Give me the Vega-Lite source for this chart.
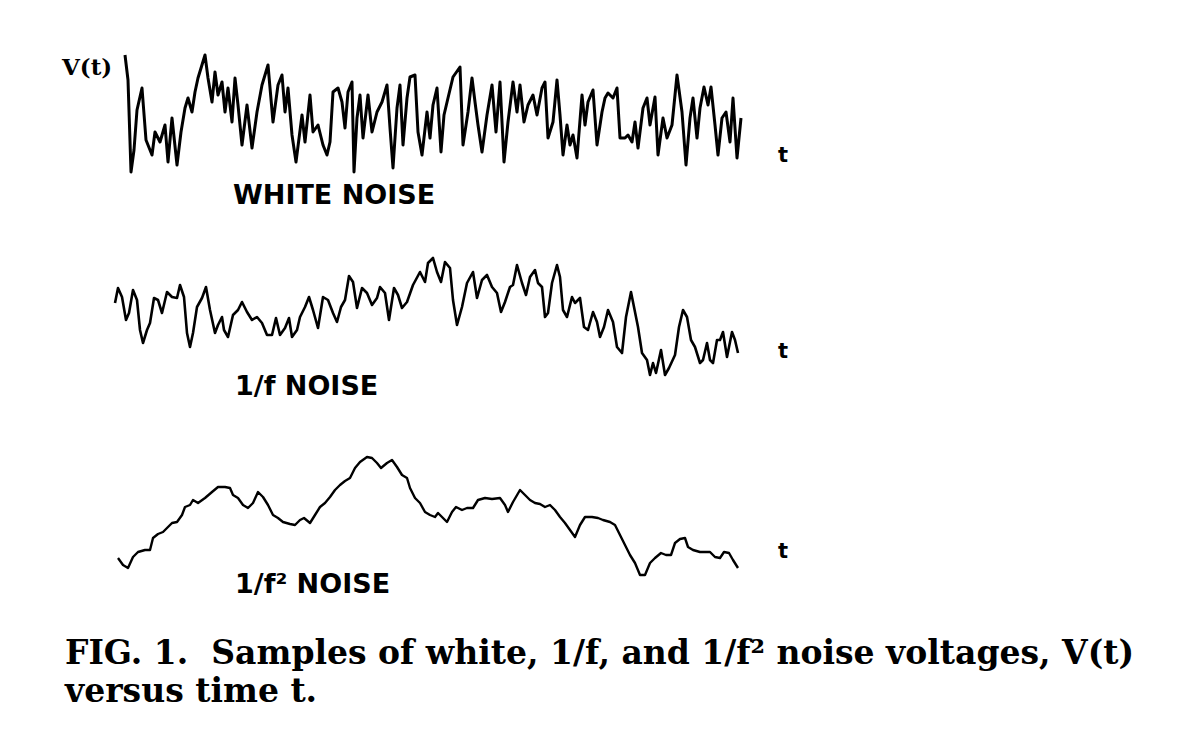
{
  "$schema": "https://vega.github.io/schema/vega-lite/v6.json",
  "background": "white",
  "padding": {"left": 50, "top": 50, "right": 0, "bottom": 12},
  "config": {"view": {"stroke": null}},
  "title": {
    "text": ["FIG. 1.\u00a0\u00a0Samples of white, 1/f, and 1/f\u00b2 noise voltages, V(t)", "versus time t."],
    "orient": "bottom", "anchor": "start", "offset": 38, "dx": 15,
    "font": "DejaVu Serif", "fontWeight": "bold", "fontSize": 33, "lineHeight": 38, "color": "black"
  },
  "spacing": 40,
  "resolve": {"scale": {"x": "independent", "y": "independent"}},
  "datasets": {
    "white": [
      {"t":10,"V":60},{"t":13,"V":35},{"t":16,"V":-57},{"t":19,"V":-35},{"t":22,"V":5},{"t":27,"V":27},{"t":31,"V":-25},{"t":37,"V":-40},{"t":40,"V":-17},{"t":45,"V":-27},{"t":50,"V":-10},{"t":53,"V":-47},{"t":57,"V":-3},{"t":62,"V":-50},{"t":66,"V":-17},{"t":70,"V":7},{"t":73,"V":17},{"t":77,"V":3},{"t":80,"V":23},{"t":83,"V":37},{"t":90,"V":60},{"t":93,"V":37},{"t":97,"V":13},{"t":100,"V":43},{"t":103,"V":20},{"t":107,"V":33},{"t":110,"V":3},{"t":113,"V":27},{"t":117,"V":-7},{"t":120,"V":37},{"t":123,"V":10},{"t":127,"V":-30},{"t":132,"V":10},{"t":137,"V":-33},{"t":142,"V":3},{"t":147,"V":30},{"t":153,"V":50},{"t":158,"V":-7},{"t":163,"V":30},{"t":167,"V":40},{"t":170,"V":3},{"t":173,"V":27},{"t":177,"V":-20},{"t":181,"V":-47},{"t":187,"V":0},{"t":190,"V":-27},{"t":195,"V":20},{"t":198,"V":-17},{"t":203,"V":-10},{"t":208,"V":-30},{"t":212,"V":-40},{"t":215,"V":-27},{"t":218,"V":23},{"t":223,"V":27},{"t":227,"V":13},{"t":230,"V":-13},{"t":233,"V":23},{"t":237,"V":33},{"t":239,"V":-57},{"t":242,"V":-3},{"t":245,"V":20},{"t":248,"V":-23},{"t":253,"V":20},{"t":257,"V":-17},{"t":262,"V":3},{"t":267,"V":13},{"t":272,"V":30},{"t":275,"V":-13},{"t":278,"V":-53},{"t":282,"V":7},{"t":285,"V":30},{"t":288,"V":-30},{"t":292,"V":17},{"t":295,"V":38},{"t":300,"V":40},{"t":303,"V":-17},{"t":307,"V":-40},{"t":312,"V":3},{"t":315,"V":-23},{"t":318,"V":10},{"t":322,"V":27},{"t":326,"V":-37},{"t":329,"V":0},{"t":333,"V":17},{"t":338,"V":38},{"t":345,"V":48},{"t":348,"V":-30},{"t":353,"V":3},{"t":357,"V":37},{"t":360,"V":13},{"t":363,"V":-10},{"t":367,"V":-37},{"t":372,"V":0},{"t":377,"V":30},{"t":381,"V":-17},{"t":385,"V":33},{"t":389,"V":-47},{"t":393,"V":-7},{"t":398,"V":33},{"t":402,"V":3},{"t":405,"V":30},{"t":409,"V":-7},{"t":413,"V":10},{"t":418,"V":20},{"t":422,"V":0},{"t":427,"V":27},{"t":430,"V":33},{"t":433,"V":-23},{"t":438,"V":-7},{"t":442,"V":35},{"t":445,"V":0},{"t":448,"V":-40},{"t":452,"V":-10},{"t":455,"V":-30},{"t":458,"V":-20},{"t":462,"V":-43},{"t":467,"V":20},{"t":470,"V":-10},{"t":473,"V":13},{"t":478,"V":25},{"t":482,"V":-30},{"t":487,"V":3},{"t":490,"V":17},{"t":493,"V":22},{"t":498,"V":17},{"t":502,"V":27},{"t":505,"V":-23},{"t":510,"V":-23},{"t":513,"V":-20},{"t":517,"V":-27},{"t":520,"V":-7},{"t":523,"V":-33},{"t":528,"V":7},{"t":532,"V":17},{"t":535,"V":-10},{"t":540,"V":18},{"t":543,"V":-40},{"t":548,"V":-3},{"t":552,"V":-23},{"t":557,"V":-10},{"t":560,"V":20},{"t":562,"V":40},{"t":567,"V":3},{"t":571,"V":-50},{"t":575,"V":-3},{"t":578,"V":17},{"t":582,"V":-23},{"t":585,"V":7},{"t":589,"V":28},{"t":593,"V":10},{"t":596,"V":28},{"t":600,"V":-10},{"t":603,"V":-40},{"t":607,"V":-3},{"t":611,"V":3},{"t":615,"V":-27},{"t":618,"V":17},{"t":622,"V":-43},{"t":626,"V":-3}
    ],
    "pink": [
      {"t":0,"V":15},{"t":3,"V":30},{"t":7,"V":21},{"t":11,"V":-2},{"t":14,"V":5},{"t":18,"V":28},{"t":22,"V":18},{"t":25,"V":-12},{"t":28,"V":-25},{"t":32,"V":-12},{"t":35,"V":-5},{"t":39,"V":20},{"t":43,"V":18},{"t":47,"V":5},{"t":52,"V":26},{"t":57,"V":21},{"t":62,"V":20},{"t":65,"V":33},{"t":69,"V":21},{"t":72,"V":-15},{"t":75,"V":-29},{"t":78,"V":-15},{"t":82,"V":11},{"t":87,"V":20},{"t":91,"V":31},{"t":95,"V":8},{"t":100,"V":-15},{"t":103,"V":-7},{"t":107,"V":1},{"t":109,"V":-12},{"t":113,"V":-19},{"t":118,"V":3},{"t":123,"V":8},{"t":127,"V":16},{"t":132,"V":6},{"t":137,"V":-2},{"t":142,"V":1},{"t":147,"V":-5},{"t":152,"V":-17},{"t":157,"V":-17},{"t":161,"V":0},{"t":165,"V":-17},{"t":170,"V":-10},{"t":174,"V":0},{"t":177,"V":-19},{"t":182,"V":-12},{"t":185,"V":1},{"t":190,"V":11},{"t":194,"V":21},{"t":198,"V":8},{"t":203,"V":-10},{"t":208,"V":21},{"t":213,"V":18},{"t":218,"V":5},{"t":222,"V":-4},{"t":226,"V":11},{"t":230,"V":18},{"t":234,"V":42},{"t":238,"V":36},{"t":242,"V":10},{"t":247,"V":30},{"t":252,"V":25},{"t":257,"V":13},{"t":262,"V":20},{"t":265,"V":31},{"t":270,"V":25},{"t":274,"V":-2},{"t":279,"V":30},{"t":283,"V":23},{"t":287,"V":10},{"t":292,"V":16},{"t":298,"V":33},{"t":305,"V":46},{"t":310,"V":36},{"t":313,"V":55},{"t":318,"V":60},{"t":322,"V":46},{"t":326,"V":36},{"t":330,"V":56},{"t":335,"V":50},{"t":338,"V":18},{"t":342,"V":-7},{"t":347,"V":11},{"t":352,"V":35},{"t":358,"V":46},{"t":362,"V":20},{"t":367,"V":38},{"t":372,"V":43},{"t":377,"V":31},{"t":382,"V":25},{"t":386,"V":6},{"t":390,"V":16},{"t":395,"V":31},{"t":398,"V":33},{"t":402,"V":53},{"t":407,"V":35},{"t":411,"V":23},{"t":415,"V":41},{"t":420,"V":48},{"t":423,"V":35},{"t":427,"V":31},{"t":430,"V":1},{"t":433,"V":5},{"t":437,"V":35},{"t":442,"V":53},{"t":445,"V":41},{"t":448,"V":8},{"t":452,"V":1},{"t":457,"V":21},{"t":460,"V":15},{"t":465,"V":20},{"t":469,"V":-9},{"t":473,"V":-12},{"t":478,"V":6},{"t":482,"V":-4},{"t":485,"V":-19},{"t":489,"V":-9},{"t":493,"V":8},{"t":498,"V":-4},{"t":502,"V":-29},{"t":507,"V":-35},{"t":511,"V":1},{"t":516,"V":26},{"t":520,"V":6},{"t":523,"V":-9},{"t":527,"V":-35},{"t":532,"V":-42},{"t":535,"V":-57},{"t":538,"V":-45},{"t":541,"V":-55},{"t":546,"V":-32},{"t":550,"V":-57},{"t":554,"V":-50},{"t":560,"V":-37},{"t":564,"V":-9},{"t":568,"V":8},{"t":572,"V":1},{"t":576,"V":-22},{"t":580,"V":-29},{"t":585,"V":-45},{"t":588,"V":-42},{"t":592,"V":-25},{"t":595,"V":-42},{"t":598,"V":-45},{"t":602,"V":-22},{"t":605,"V":-22},{"t":608,"V":-14},{"t":612,"V":-39},{"t":617,"V":-14},{"t":620,"V":-22},{"t":623,"V":-35}
    ],
    "brown": [
      {"t":3,"V":-43},{"t":8,"V":-50},{"t":13,"V":-53},{"t":18,"V":-42},{"t":23,"V":-37},{"t":30,"V":-35},{"t":35,"V":-35},{"t":38,"V":-23},{"t":43,"V":-19},{"t":48,"V":-17},{"t":53,"V":-12},{"t":57,"V":-8},{"t":62,"V":-7},{"t":67,"V":0},{"t":70,"V":8},{"t":75,"V":10},{"t":78,"V":15},{"t":83,"V":12},{"t":90,"V":17},{"t":97,"V":23},{"t":103,"V":28},{"t":110,"V":28},{"t":115,"V":27},{"t":118,"V":20},{"t":123,"V":17},{"t":128,"V":10},{"t":133,"V":7},{"t":138,"V":12},{"t":143,"V":23},{"t":148,"V":18},{"t":153,"V":10},{"t":158,"V":0},{"t":163,"V":-3},{"t":168,"V":-7},{"t":175,"V":-9},{"t":180,"V":-10},{"t":185,"V":-5},{"t":189,"V":-3},{"t":195,"V":-8},{"t":200,"V":0},{"t":205,"V":8},{"t":210,"V":12},{"t":215,"V":18},{"t":220,"V":25},{"t":225,"V":30},{"t":230,"V":34},{"t":235,"V":37},{"t":240,"V":47},{"t":245,"V":53},{"t":252,"V":58},{"t":257,"V":57},{"t":262,"V":52},{"t":266,"V":47},{"t":272,"V":52},{"t":277,"V":55},{"t":282,"V":48},{"t":287,"V":40},{"t":292,"V":37},{"t":295,"V":27},{"t":300,"V":17},{"t":305,"V":12},{"t":310,"V":3},{"t":315,"V":0},{"t":320,"V":-2},{"t":323,"V":2},{"t":327,"V":-2},{"t":332,"V":-7},{"t":337,"V":3},{"t":341,"V":8},{"t":347,"V":5},{"t":352,"V":7},{"t":358,"V":7},{"t":363,"V":15},{"t":370,"V":17},{"t":377,"V":16},{"t":385,"V":17},{"t":390,"V":10},{"t":393,"V":3},{"t":398,"V":13},{"t":405,"V":25},{"t":410,"V":20},{"t":415,"V":15},{"t":420,"V":12},{"t":425,"V":11},{"t":430,"V":8},{"t":435,"V":10},{"t":440,"V":5},{"t":445,"V":-2},{"t":450,"V":-8},{"t":455,"V":-15},{"t":460,"V":-22},{"t":465,"V":-10},{"t":470,"V":-2},{"t":477,"V":-2},{"t":483,"V":-3},{"t":488,"V":-5},{"t":495,"V":-7},{"t":500,"V":-10},{"t":505,"V":-20},{"t":510,"V":-30},{"t":515,"V":-40},{"t":520,"V":-48},{"t":525,"V":-60},{"t":530,"V":-60},{"t":535,"V":-48},{"t":540,"V":-43},{"t":546,"V":-38},{"t":551,"V":-40},{"t":556,"V":-40},{"t":560,"V":-28},{"t":565,"V":-24},{"t":570,"V":-23},{"t":573,"V":-32},{"t":578,"V":-35},{"t":585,"V":-37},{"t":590,"V":-37},{"t":595,"V":-37},{"t":600,"V":-42},{"t":605,"V":-43},{"t":609,"V":-37},{"t":614,"V":-38},{"t":618,"V":-45},{"t":623,"V":-53}
    ],
    "one": [{}]
  },
  "vconcat": [
    {
      "width": 750, "height": 160,
      "layer": [
        {
          "data": {"name": "white"},
          "mark": {"type": "line", "stroke": "black", "strokeWidth": 3, "strokeJoin": "round"},
          "encoding": {
            "x": {"field": "t", "type": "quantitative", "scale": {"domain": [-65, 685], "nice": false, "zero": false}, "axis": null},
            "y": {"field": "V", "type": "quantitative", "scale": {"domain": [-95, 65], "nice": false, "zero": false}, "axis": null}
          }
        },
        {
          "data": {"name": "one"},
          "mark": {"type": "text", "align": "left", "baseline": "alphabetic", "font": "DejaVu Serif", "fontWeight": "bold", "fontSize": 23, "color": "black"},
          "encoding": {"x": {"datum": -53}, "y": {"datum": 40}, "text": {"value": "V(t)"}}
        },
        {
          "data": {"name": "one"},
          "mark": {"type": "text", "align": "left", "baseline": "alphabetic", "font": "DejaVu Sans", "fontWeight": "bold", "fontSize": 27, "color": "black"},
          "encoding": {"x": {"datum": 118}, "y": {"datum": -89}, "text": {"value": "WHITE NOISE"}}
        },
        {
          "data": {"name": "one"},
          "mark": {"type": "text", "align": "left", "baseline": "alphabetic", "font": "DejaVu Sans", "fontWeight": "bold", "fontSize": 21, "color": "black"},
          "encoding": {"x": {"datum": 663}, "y": {"datum": -47}, "text": {"value": "t"}}
        }
      ]
    },
    {
      "width": 750, "height": 155,
      "layer": [
        {
          "data": {"name": "pink"},
          "mark": {"type": "line", "stroke": "black", "strokeWidth": 2.6, "strokeJoin": "round"},
          "encoding": {
            "x": {"field": "t", "type": "quantitative", "scale": {"domain": [-65, 685], "nice": false, "zero": false}, "axis": null},
            "y": {"field": "V", "type": "quantitative", "scale": {"domain": [-87, 68], "nice": false, "zero": false}, "axis": null}
          }
        },
        {
          "data": {"name": "one"},
          "mark": {"type": "text", "align": "left", "baseline": "alphabetic", "font": "DejaVu Sans", "fontWeight": "bold", "fontSize": 27, "color": "black"},
          "encoding": {"x": {"datum": 120}, "y": {"datum": -77}, "text": {"value": "1/f NOISE"}}
        },
        {
          "data": {"name": "one"},
          "mark": {"type": "text", "align": "left", "baseline": "alphabetic", "font": "DejaVu Sans", "fontWeight": "bold", "fontSize": 21, "color": "black"},
          "encoding": {"x": {"datum": 663}, "y": {"datum": -40}, "text": {"value": "t"}}
        }
      ]
    },
    {
      "width": 750, "height": 155,
      "layer": [
        {
          "data": {"name": "brown"},
          "mark": {"type": "line", "stroke": "black", "strokeWidth": 2.4, "strokeJoin": "round"},
          "encoding": {
            "x": {"field": "t", "type": "quantitative", "scale": {"domain": [-65, 685], "nice": false, "zero": false}, "axis": null},
            "y": {"field": "V", "type": "quantitative", "scale": {"domain": [-85, 70], "nice": false, "zero": false}, "axis": null}
          }
        },
        {
          "data": {"name": "one"},
          "mark": {"type": "text", "align": "left", "baseline": "alphabetic", "font": "DejaVu Sans", "fontWeight": "bold", "fontSize": 27, "color": "black"},
          "encoding": {"x": {"datum": 120}, "y": {"datum": -78}, "text": {"value": "1/f\u00b2 NOISE"}}
        },
        {
          "data": {"name": "one"},
          "mark": {"type": "text", "align": "left", "baseline": "alphabetic", "font": "DejaVu Sans", "fontWeight": "bold", "fontSize": 21, "color": "black"},
          "encoding": {"x": {"datum": 663}, "y": {"datum": -43}, "text": {"value": "t"}}
        }
      ]
    }
  ]
}
